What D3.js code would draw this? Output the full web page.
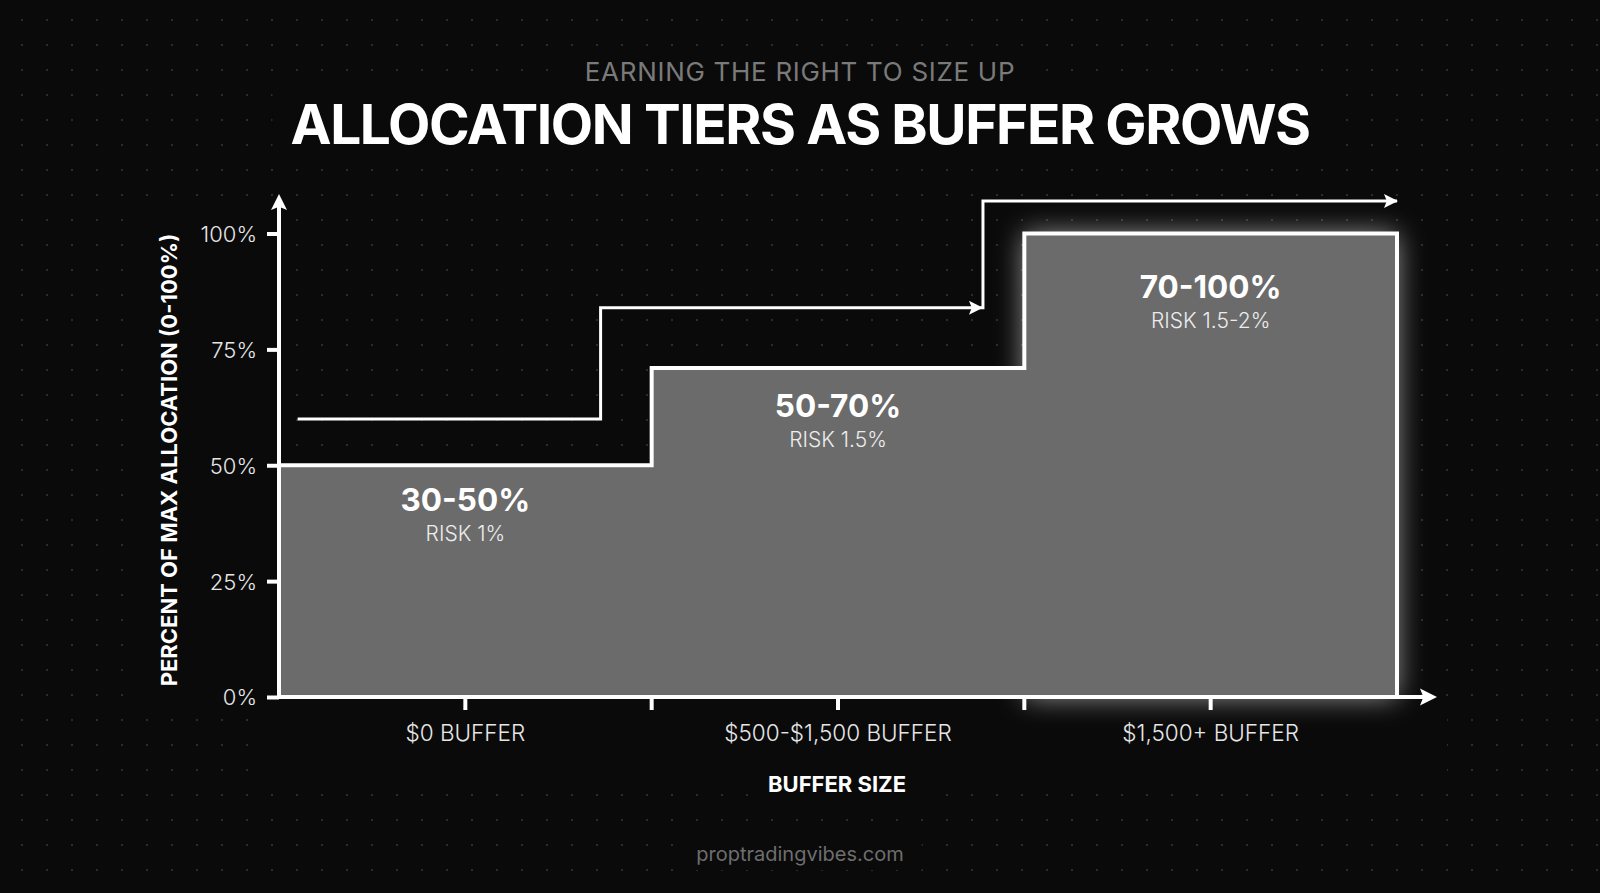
<!DOCTYPE html>
<html>
<head>
<meta charset="utf-8">
<script src="https://cdn.jsdelivr.net/npm/d3@7/dist/d3.min.js"></script>
<style>
  html, body { margin: 0; padding: 0; background: #0a0a0a; }
  svg { display: block; }
  text { font-family: Inter, "Noto Sans", sans-serif; }
</style>
</head>
<body>
<svg id="chart" width="1600" height="893"></svg>
<script>
// ---- data ----
const categories = ["$0 BUFFER", "$500-$1,500 BUFFER", "$1,500+ BUFFER"];
const allocation = [50, 71, 100];              // bar heights (% of max allocation)
const tierLabels = ["30-50%", "50-70%", "70-100%"];
const riskLabels = ["RISK 1%", "RISK 1.5%", "RISK 1.5-2%"];
const labelLevel = [40.2, 60.5, 86];           // where tier labels sit (% units)
const yTicks = [0, 25, 50, 75, 100];
const yTickLabels = ["0%", "25%", "50%", "75%", "100%"];
const stepX = [0.05, 0.863, 1.889, 3.0];       // upper "size up" path, tier units
const stepY = [60, 84, 107];                    // upper path levels (%)
const titleText = "ALLOCATION TIERS AS BUFFER GROWS";
const subtitleText = "EARNING THE RIGHT TO SIZE UP";
const yTitle = "PERCENT OF MAX ALLOCATION (0-100%)";
const xTitle = "BUFFER SIZE";
const footer = "proptradingvibes.com";

const W = 1600, H = 893;
const svg = d3.select("#chart");

const x = d3.scaleLinear().domain([0, categories.length]).range([279, 1397]);
const xBand = d3.scaleBand().domain(categories).range([279, 1397]);
const y = d3.scaleLinear().domain([0, 100]).range([697, 233.5]);

const defs = svg.append("defs");
const glow = defs.append("filter").attr("id", "glow")
  .attr("x", "-30%").attr("y", "-30%").attr("width", "160%").attr("height", "160%");
glow.append("feGaussianBlur").attr("in", "SourceGraphic").attr("stdDeviation", 14);

// background
svg.append("rect").attr("width", W).attr("height", H).attr("fill", "#0a0a0a");

// dot grid
const dots = [];
for (let gx = 22; gx < W; gx += 25) for (let gy = 20; gy < H; gy += 25) dots.push([gx, gy]);
svg.append("g").selectAll("circle").data(dots).join("circle")
  .attr("cx", d => d[0]).attr("cy", d => d[1]).attr("r", 1.1).attr("fill", "#353535");

// masks hiding dots behind label areas
const maskG = svg.append("g").attr("fill", "#0a0a0a");
maskG.append("rect").attr("x", 140).attr("y", 207).attr("width", 137).attr("height", 495);
maskG.append("rect").attr("x", 262).attr("y", 700).attr("width", 1185).attr("height", 80);

// glow behind top tier
const last = allocation.length - 1;
svg.append("rect")
  .attr("x", x(last)).attr("y", y(allocation[last]))
  .attr("width", x(last + 1) - x(last)).attr("height", y(0) - y(allocation[last]))
  .attr("fill", "#ffffff").attr("opacity", 0.6).attr("filter", "url(#glow)");

// bars (single filled step shape built from the values)
const fill = d3.path();
fill.moveTo(x(0), y(0));
allocation.forEach((d, i) => { fill.lineTo(x(i), y(d)); fill.lineTo(x(i + 1), y(d)); });
fill.lineTo(x(allocation.length), y(0));
fill.closePath();
svg.append("path").attr("d", fill.toString()).attr("fill", "#6b6b6b");

// bar outline (step)
const outline = d3.path();
outline.moveTo(x(0), y(allocation[0]));
allocation.forEach((d, i) => {
  if (i > 0) outline.lineTo(x(i), y(d));
  outline.lineTo(x(i + 1), y(d));
});
outline.lineTo(x(allocation.length), y(0));
svg.append("path").attr("d", outline.toString()).attr("fill", "none")
  .attr("stroke", "#fff").attr("stroke-width", 4).attr("stroke-linejoin", "miter");

// upper step arrow path
const up = d3.path();
up.moveTo(x(stepX[0]), y(stepY[0]));
for (let i = 0; i < stepY.length; i++) {
  if (i > 0) up.lineTo(x(stepX[i]), y(stepY[i]));
  up.lineTo(x(stepX[i + 1]), y(stepY[i]));
}
svg.append("path").attr("d", up.toString()).attr("fill", "none")
  .attr("stroke", "#fff").attr("stroke-width", 3);

function arrowRight(tx, ty, len, half) {
  return `M${tx},${ty} L${tx - len},${ty - half} L${tx - len * 0.8},${ty} L${tx - len},${ty + half} Z`;
}
function arrowUp(tx, ty, len, half) {
  return `M${tx},${ty} L${tx - half},${ty + len} L${tx},${ty + len * 0.8} L${tx + half},${ty + len} Z`;
}
svg.append("path").attr("d", arrowRight(x(stepX[2]), y(stepY[1]), 14, 7)).attr("fill", "#fff");
svg.append("path").attr("d", arrowRight(x(stepX[3]) + 1, y(stepY[2]), 14, 7)).attr("fill", "#fff");

// axes
const axisG = svg.append("g");
axisG.append("line").attr("x1", x(0)).attr("x2", x(0)).attr("y1", y(0) + 2).attr("y2", 205)
  .attr("stroke", "#fff").attr("stroke-width", 4);
axisG.append("path").attr("d", arrowUp(x(0), 194, 16, 8)).attr("fill", "#fff");
axisG.append("line").attr("x1", x(0) - 2).attr("x2", 1424).attr("y1", y(0)).attr("y2", y(0))
  .attr("stroke", "#fff").attr("stroke-width", 4);
axisG.append("path").attr("d", arrowRight(1437, y(0), 17, 8.5)).attr("fill", "#fff");

// y ticks
const yAxis = d3.axisLeft(y).tickValues(yTicks).tickSize(12).tickPadding(10)
  .tickFormat((d, i) => yTickLabels[i]);
const gy = svg.append("g").attr("transform", `translate(${x(0)},0)`).call(yAxis);
gy.select(".domain").remove();
gy.selectAll(".tick line").attr("stroke", "#fff").attr("stroke-width", 4);
gy.selectAll(".tick text").attr("fill", "#e6e6e6").attr("font-size", 22).attr("font-weight", 300)
  .attr("font-family", "Inter, sans-serif").attr("dy", "0.36em");

// x ticks: centers and boundaries
const xTickVals = [0.5, 1, 1.5, 2, 2.5];
svg.append("g").selectAll("line").data(xTickVals).join("line")
  .attr("x1", d => x(d)).attr("x2", d => x(d)).attr("y1", y(0)).attr("y2", y(0) + 13)
  .attr("stroke", "#fff").attr("stroke-width", 4);
svg.append("g").selectAll("text").data(categories).join("text")
  .attr("x", d => xBand(d) + xBand.bandwidth() / 2).attr("y", 741)
  .attr("text-anchor", "middle").attr("fill", "#e6e6e6").attr("font-size", 22.5).attr("font-weight", 300)
  .text(d => d);

// tier labels
const lab = svg.append("g");
lab.selectAll("text.tier").data(tierLabels).join("text").attr("class", "tier")
  .attr("x", (d, i) => x(i + 0.5)).attr("y", (d, i) => y(labelLevel[i]))
  .attr("text-anchor", "middle").attr("fill", "#fff").attr("font-size", 31.5).attr("font-weight", 700)
  .text(d => d);
lab.selectAll("text.risk").data(riskLabels).join("text").attr("class", "risk")
  .attr("x", (d, i) => x(i + 0.5)).attr("y", (d, i) => y(labelLevel[i]) + 30)
  .attr("text-anchor", "middle").attr("fill", "#ececec").attr("font-size", 21).attr("font-weight", 300)
  .text(d => d);

// titles with background masks
function maskedText(tx, ty, str, attrs, pad) {
  const t = svg.append("text").attr("x", tx).attr("y", ty).attr("text-anchor", "middle").text(str);
  Object.entries(attrs).forEach(([k, v]) => t.attr(k, v));
  const b = t.node().getBBox();
  svg.insert("rect", () => t.node())
    .attr("x", b.x - pad).attr("y", b.y - 4).attr("width", b.width + 2 * pad).attr("height", b.height + 8)
    .attr("fill", "#0a0a0a");
  return t;
}
maskedText(800, 81, subtitleText, { fill: "#7a7a7a", "font-size": 26, "font-weight": 400, "letter-spacing": 0.7 }, 18);
maskedText(800, 143.5, titleText, { fill: "#ffffff", "font-size": 55, "font-weight": 700, "letter-spacing": -1.4 }, 18);
maskedText(837, 792, xTitle, { fill: "#ffffff", "font-size": 22, "font-weight": 700 }, 18);
maskedText(800, 861, footer, { fill: "#6e6e6e", "font-size": 20, "font-weight": 400 }, 18);

svg.append("text").attr("transform", "translate(177,460) rotate(-90)")
  .attr("text-anchor", "middle").attr("fill", "#fff").attr("font-size", 22).attr("font-weight", 700)
  .text(yTitle);
</script>
</body>
</html>
